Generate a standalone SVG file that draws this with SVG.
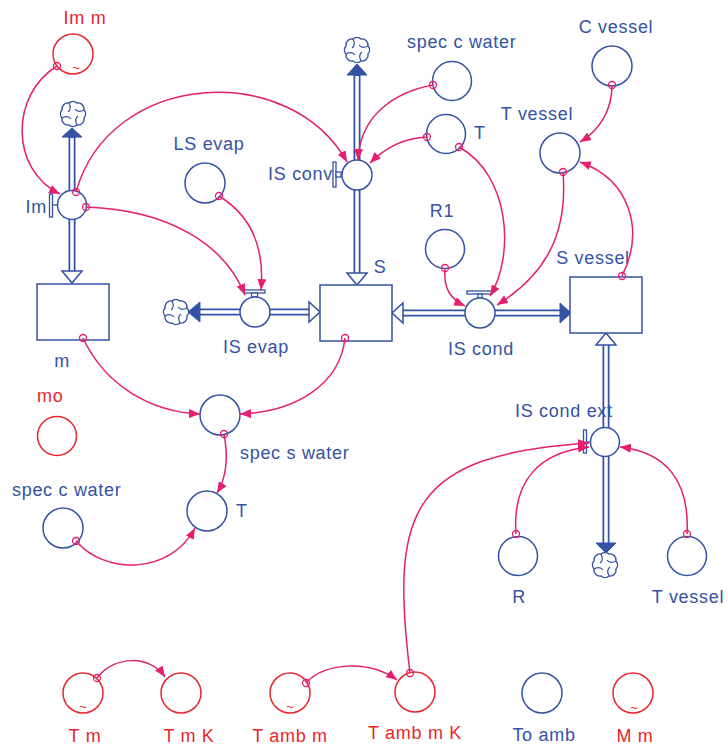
<svg xmlns="http://www.w3.org/2000/svg" width="728" height="745" viewBox="0 0 728 745">
<style>
.lbl{font-family:"Liberation Sans",Arial,sans-serif;font-size:18px;letter-spacing:0.7px;fill:#3452a4}
.red{fill:#e8262b}
.mid{text-anchor:middle}
.end{text-anchor:end}
.aux{fill:#fff;stroke:#3452a4;stroke-width:1.5}
.auxr{fill:#fff;stroke:#e8262b;stroke-width:1.5}
.stock{fill:#fff;stroke:#3452a4;stroke-width:1.5}
.pipeo{stroke:#3452a4;stroke-width:7;fill:none}
.pipei{stroke:#fff;stroke-width:3.5;fill:none}
.fa{fill:#3452a4;stroke:#3452a4;stroke-width:1}
.ha{fill:#fff;stroke:#3452a4;stroke-width:1.5;stroke-linejoin:miter}
.bar{fill:#fff;stroke:#3452a4;stroke-width:1.3}
.conn{fill:none;stroke:#e61e6e;stroke-width:1.5;marker-end:url(#ah)}
.org{fill:none;stroke:#e61e6e;stroke-width:1.3}
.tilde{font-family:"Liberation Sans",Arial,sans-serif;font-size:13px;fill:#e8262b;text-anchor:middle}
.cloud{fill:#fff;stroke:#3452a4;stroke-width:1.4}
</style>
<defs>
<marker id="ah" viewBox="0 0 11 9" refX="11" refY="4.5" markerWidth="11" markerHeight="9" markerUnits="userSpaceOnUse" orient="auto">
<path d="M0,0 L11,4.5 L0,9 Z" fill="#e61e6e"/>
</marker>
<g id="cloud">
<path class="cloud" d="M-4,-11 A6,6 0 0 1 4,-11 A6,6 0 0 1 11,-4 A6,6 0 0 1 11,4 A6,6 0 0 1 4,11 A6,6 0 0 1 -4,11 A6,6 0 0 1 -11,4 A6,6 0 0 1 -11,-4 A6,6 0 0 1 -4,-11 Z"/>
<path d="M-4,-11 Q-1,-5 -5,-2 M11,-4 Q5,-1 2,-5 M4,11 Q1,5 5,2 M-11,4 Q-5,1 -2,5" fill="none" stroke="#3452a4" stroke-width="1.2"/>
</g>
</defs>

<!-- flow pipes -->
<g id="pipes">
<path class="pipeo" d="M72,137 V271 M357,75 V273 M200,312 H309 M402,313 H560 M606,345 V543"/>
<path class="pipei" d="M72,138 V272 M357,76 V274 M199,312 H310 M401,313 H561 M606,344 V544"/>
<polygon class="fa" points="72,128 62,137 82,137"/>
<polygon class="fa" points="357,64 347,75 367,75"/>
<polygon class="fa" points="188,312 200,302 200,322"/>
<polygon class="fa" points="571,313 560,303 560,323"/>
<polygon class="fa" points="606,553 596,543 616,543"/>
<polygon class="ha" points="62,271 82,271 72,283"/>
<polygon class="ha" points="347,273 367,273 357,285"/>
<polygon class="ha" points="309,302 309,322 320,312"/>
<polygon class="ha" points="403,303 403,323 392,313"/>
<polygon class="ha" points="596,345 616,345 606,333"/>
</g>

<!-- clouds -->
<g id="cloud-im"><use href="#cloud" x="73" y="114"/></g>
<g id="cloud-isconv"><use href="#cloud" x="357" y="50"/></g>
<g id="cloud-isevap"><use href="#cloud" x="176" y="312"/></g>
<g id="cloud-iscondext"><use href="#cloud" x="605" y="565"/></g>

<!-- stocks -->
<g id="m"><rect class="stock" x="37" y="284" width="72" height="56"/><text class="lbl mid" x="62" y="367">m</text></g>
<g id="S"><rect class="stock" x="320" y="285" width="72" height="56"/><text class="lbl mid" x="380" y="273">S</text></g>
<g id="S-vessel"><rect class="stock" x="570" y="277" width="72" height="56"/><text class="lbl mid" x="593" y="264">S vessel</text></g>

<!-- valves -->
<g id="Im">
<rect class="bar" x="49.5" y="194" width="3" height="23"/><line x1="52.5" y1="205" x2="58" y2="205" stroke="#3452a4" stroke-width="1.3"/>
<circle class="aux" cx="72" cy="205" r="14.5"/>
<text class="lbl end" x="47" y="213">Im</text>
</g>
<g id="IS-conv">
<rect class="bar" x="333" y="162" width="3" height="25"/><rect class="bar" x="336" y="172" width="5" height="5"/>
<circle class="aux" cx="357" cy="175" r="15"/>
<text class="lbl end" x="333" y="180">IS conv</text>
</g>
<g id="IS-evap">
<rect class="bar" x="244" y="290" width="21" height="3"/><rect class="bar" x="251.5" y="293" width="6" height="4"/>
<circle class="aux" cx="255" cy="312" r="15"/>
<text class="lbl mid" x="256" y="353">IS evap</text>
</g>
<g id="IS-cond">
<rect class="bar" x="467" y="291" width="25" height="3"/><rect class="bar" x="478" y="294" width="4" height="4"/>
<circle class="aux" cx="480" cy="313" r="15"/>
<text class="lbl mid" x="481" y="355">IS cond</text>
</g>
<g id="IS-cond-ext">
<rect class="bar" x="583.5" y="430" width="3" height="23"/><line x1="586.5" y1="442" x2="591" y2="442" stroke="#3452a4" stroke-width="1.3"/>
<circle class="aux" cx="605" cy="442" r="14.5"/>
<text class="lbl" x="515" y="417">IS cond ext</text>
</g>

<!-- auxiliaries -->
<g id="Im-m"><circle class="auxr" cx="73" cy="54" r="20"/><text class="tilde" x="76" y="72">~</text><text class="lbl red mid" x="85" y="24">Im m</text></g>
<g id="LS-evap"><circle class="aux" cx="205" cy="183" r="20"/><text class="lbl mid" x="209" y="150">LS evap</text></g>
<g id="spec-c-water-top"><circle class="aux" cx="452" cy="81" r="19.5"/><text class="lbl" x="407" y="48">spec c water</text></g>
<g id="T-top"><circle class="aux" cx="446" cy="134" r="19.5"/><text class="lbl" x="474" y="139">T</text></g>
<g id="C-vessel"><circle class="aux" cx="612" cy="66" r="20"/><text class="lbl mid" x="616" y="33">C vessel</text></g>
<g id="T-vessel-top"><circle class="aux" cx="560" cy="153" r="20"/><text class="lbl mid" x="537" y="120">T vessel</text></g>
<g id="R1"><circle class="aux" cx="445" cy="249" r="19.5"/><text class="lbl mid" x="442" y="217">R1</text></g>
<g id="mo"><circle class="auxr" cx="57" cy="436" r="19.5"/><text class="lbl red" x="37" y="402">mo</text></g>
<g id="spec-s-water"><circle class="aux" cx="220" cy="415" r="20"/><text class="lbl" x="240" y="459">spec s water</text></g>
<g id="T-mid"><circle class="aux" cx="207" cy="511" r="20"/><text class="lbl" x="236" y="517">T</text></g>
<g id="spec-c-water-mid"><circle class="aux" cx="63" cy="528" r="20"/><text class="lbl" x="12" y="496">spec c water</text></g>
<g id="R"><circle class="aux" cx="518" cy="556" r="19.5"/><text class="lbl mid" x="519" y="603">R</text></g>
<g id="T-vessel-low"><circle class="aux" cx="687" cy="556" r="19.5"/><text class="lbl mid" x="688" y="603">T vessel</text></g>
<g id="T-m"><circle class="auxr" cx="83" cy="693" r="20"/><text class="tilde" x="83" y="711">~</text><text class="lbl red mid" x="85" y="742">T m</text></g>
<g id="T-m-K"><circle class="auxr" cx="181" cy="693" r="20"/><text class="lbl red mid" x="189" y="742">T m K</text></g>
<g id="T-amb-m"><circle class="auxr" cx="290" cy="693" r="20"/><text class="tilde" x="290" y="711">~</text><text class="lbl red mid" x="290" y="742">T amb m</text></g>
<g id="T-amb-m-K"><circle class="auxr" cx="415" cy="692" r="20"/><text class="lbl red mid" x="415" y="739">T amb m K</text></g>
<g id="To-amb"><circle class="aux" cx="542" cy="693" r="20"/><text class="lbl mid" x="544" y="741">To amb</text></g>
<g id="M-m"><circle class="auxr" cx="633" cy="693" r="20"/><text class="tilde" x="634" y="712">~</text><text class="lbl red mid" x="635" y="742">M m</text></g>

<!-- connectors -->
<g id="connectors">
<path class="conn" d="M57,66 C10,95 10,170 60,194"/>
<path class="conn" d="M76,192 C110,70 290,60 347,162"/>
<path class="conn" d="M86,207 C170,210 225,245 245,295"/>
<path class="conn" d="M219,196 C250,215 265,245 261,290"/>
<path class="conn" d="M433,85 C395,92 360,115 358,160"/>
<path class="conn" d="M427,137 C405,138 385,148 370,163"/>
<path class="conn" d="M459,147 C510,175 515,255 490,296"/>
<path class="conn" d="M445,268 C443,290 452,300 465,306"/>
<path class="conn" d="M563,172 C568,235 545,275 497,305"/>
<path class="conn" d="M612,85 C612,110 600,130 580,142"/>
<path class="conn" d="M622,276 C645,230 630,180 580,162"/>
<path class="conn" d="M83,338 C105,385 150,412 200,414"/>
<path class="conn" d="M345,338 C340,385 295,412 240,414"/>
<path class="conn" d="M224,434 C228,455 228,475 217,493"/>
<path class="conn" d="M76,541 C105,575 170,575 195,528"/>
<path class="conn" d="M516,534 C512,480 540,452 589,447"/>
<path class="conn" d="M687,534 C690,480 665,452 620,447"/>
<path class="conn" d="M410,673 C390,510 410,455 589,443"/>
<path class="conn" d="M97,678 C115,655 150,655 165,677"/>
<path class="conn" d="M306,683 C325,662 370,660 397,680"/>
<g>
<circle class="org" cx="57" cy="66" r="3.5"/>
<circle class="org" cx="76" cy="192" r="3.5"/>
<circle class="org" cx="86" cy="207" r="3.5"/>
<circle class="org" cx="219" cy="196" r="3.5"/>
<circle class="org" cx="433" cy="85" r="3.5"/>
<circle class="org" cx="427" cy="137" r="3.5"/>
<circle class="org" cx="459" cy="147" r="3.5"/>
<circle class="org" cx="445" cy="268" r="3.5"/>
<circle class="org" cx="563" cy="172" r="3.5"/>
<circle class="org" cx="612" cy="85" r="3.5"/>
<circle class="org" cx="622" cy="276" r="3.5"/>
<circle class="org" cx="83" cy="338" r="3.5"/>
<circle class="org" cx="345" cy="338" r="3.5"/>
<circle class="org" cx="224" cy="434" r="3.5"/>
<circle class="org" cx="76" cy="541" r="3.5"/>
<circle class="org" cx="516" cy="534" r="3.5"/>
<circle class="org" cx="687" cy="534" r="3.5"/>
<circle class="org" cx="410" cy="673" r="3.5"/>
<circle class="org" cx="97" cy="678" r="3.5"/>
<circle class="org" cx="306" cy="683" r="3.5"/>
</g>
</g>
</svg>
